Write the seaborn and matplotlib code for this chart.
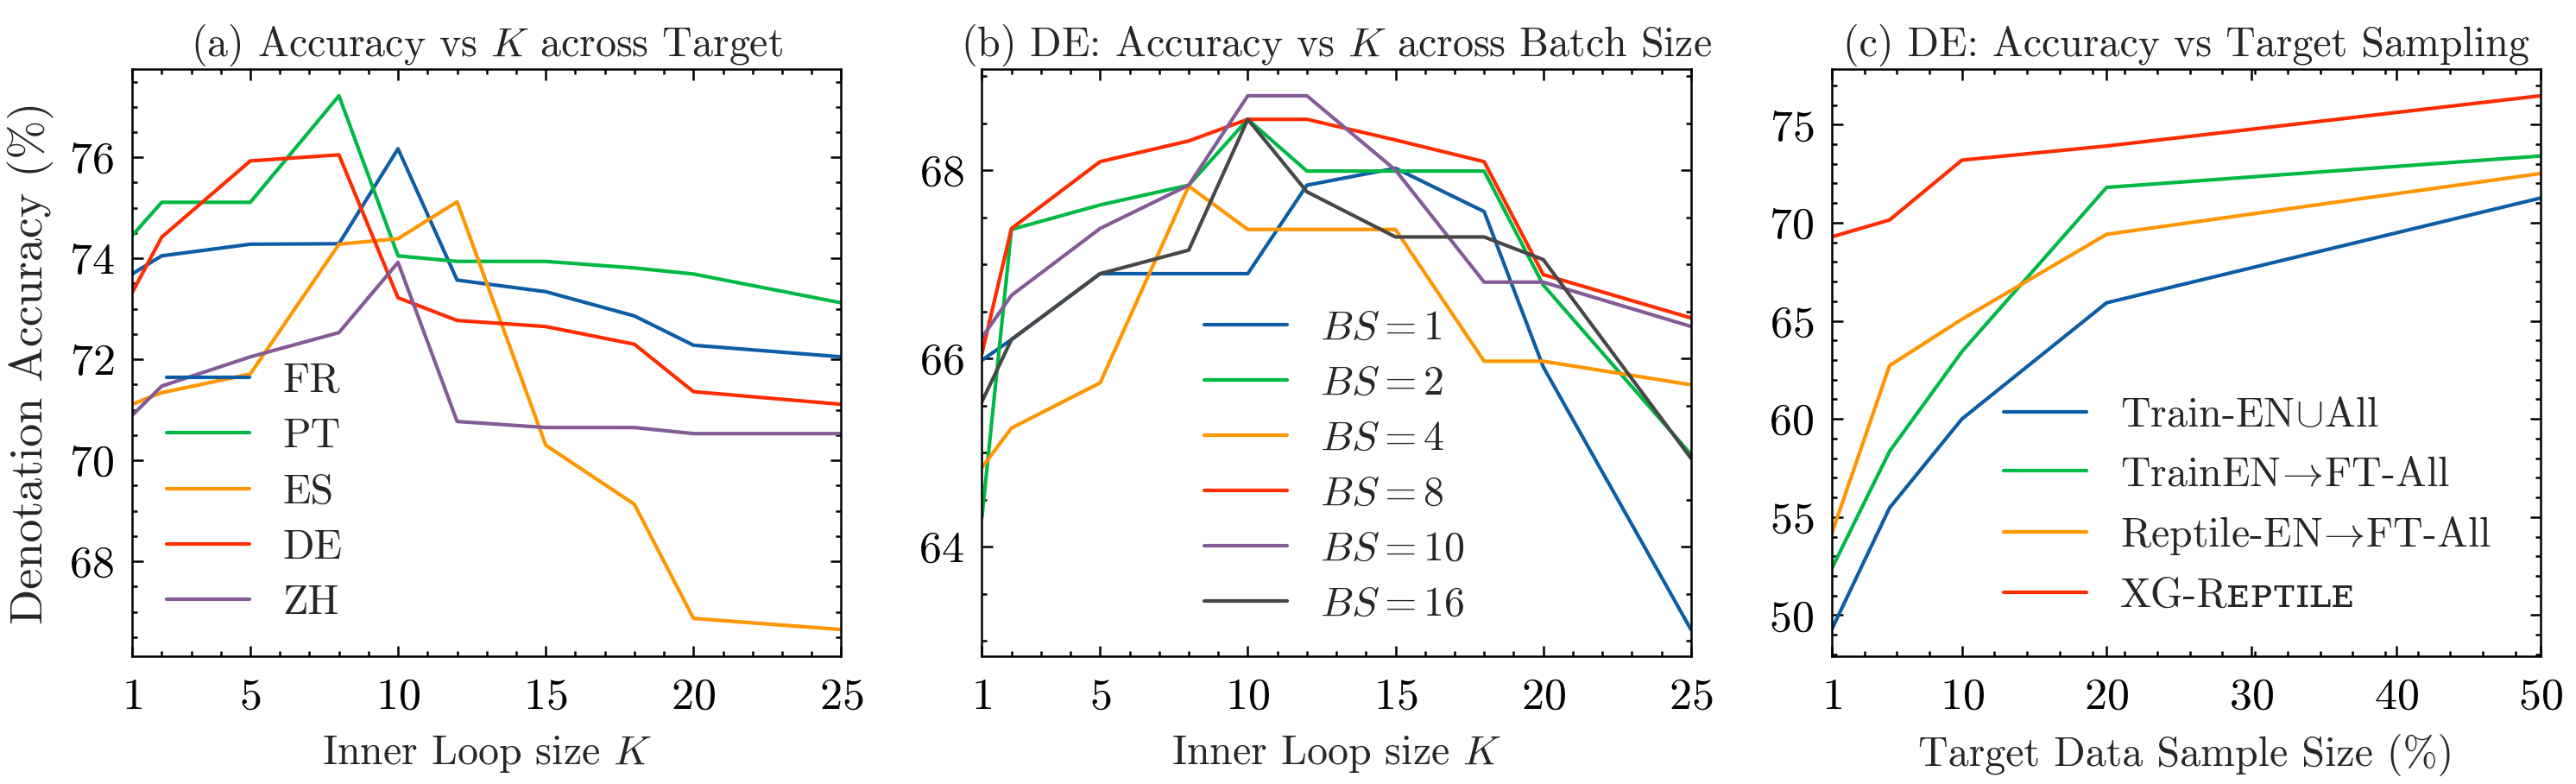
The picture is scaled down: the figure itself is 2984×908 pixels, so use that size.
import numpy as np
import pandas as pd
import matplotlib
matplotlib.use("Agg")
import matplotlib.pyplot as plt
import seaborn as sns
from matplotlib.ticker import FixedLocator, AutoMinorLocator

# ---- data ----
k_vals = [1, 2, 5, 8, 10, 12, 15, 18, 20, 25]

# (a) accuracy vs K per target language
fr = [73.69, 74.05, 74.28, 74.29, 76.17, 73.57, 73.34, 72.86, 72.28, 72.05]
pt = [74.45, 75.11, 75.11, 77.22, 74.05, 73.94, 73.94, 73.81, 73.69, 73.12]
es = [71.11, 71.34, 71.71, 74.28, 74.39, 75.12, 70.30, 69.13, 66.87, 66.65]
de = [73.32, 74.42, 75.93, 76.05, 73.22, 72.77, 72.65, 72.30, 71.36, 71.11]
zh = [70.89, 71.47, 72.05, 72.53, 73.92, 70.77, 70.65, 70.65, 70.53, 70.53]
lang_names = ["FR", "PT", "ES", "DE", "ZH"]

# (b) DE: accuracy vs K per batch size
bs1 = [65.98, 66.20, 66.90, 66.90, 66.90, 67.84, 68.02, 67.56, 65.91, 63.12]
bs2 = [64.31, 67.37, 67.63, 67.84, 68.54, 67.99, 67.99, 67.99, 66.78, 64.98]
bs4 = [64.84, 65.26, 65.74, 67.83, 67.37, 67.37, 67.37, 65.97, 65.97, 65.72]
bs8 = [66.05, 67.38, 68.09, 68.31, 68.54, 68.54, 68.32, 68.09, 66.89, 66.43]
bs10 = [66.22, 66.67, 67.38, 67.84, 68.79, 68.79, 68.00, 66.81, 66.81, 66.34]
bs16 = [65.54, 66.20, 66.90, 67.15, 68.54, 67.77, 67.29, 67.29, 67.05, 64.94]
bs_names = [r"$BS=1$", r"$BS=2$", r"$BS=4$", r"$BS=8$", r"$BS=10$", r"$BS=16$"]

# (c) DE: accuracy vs target sample size
sample_pct = [1, 5, 10, 20, 50]
train_union = [49.27, 55.47, 60.00, 65.92, 71.26]
train_ft = [52.37, 58.35, 63.43, 71.80, 73.40]
reptile_ft = [54.15, 62.72, 65.08, 69.41, 72.51]
xg_reptile = [69.28, 70.14, 73.19, 73.91, 76.47]
method_names = [r"Train-EN$\!\cup\!$All", r"TrainEN$\!\rightarrow\!$FT-All",
                r"Reptile-EN$\!\rightarrow\!$FT-All", "XG-R\u1d07\u1d18\u1d1b\u026a\u029f\u1d07"]

colors = ["#0C5DA5", "#00B945", "#FF9500", "#FF2C00", "#845B97", "#474747"]


def long_df(x, series, names, col):
    rows = []
    for name, ys in zip(names, series):
        for xi, yi in zip(x, ys):
            rows.append({"x": xi, "y": yi, col: name})
    return pd.DataFrame(rows)


df_a = long_df(k_vals, [fr, pt, es, de, zh], lang_names, "lang")
df_b = long_df(k_vals, [bs1, bs2, bs4, bs8, bs10, bs16], bs_names, "bs")
df_c = long_df(sample_pct, [train_union, train_ft, reptile_ft, xg_reptile], method_names, "method")

# ---- style (science-like) ----
sns.set_style("ticks")
plt.rcParams.update({
    "font.family": ["cmr10", "DejaVu Serif"],
    "mathtext.fontset": "cm",
    "axes.formatter.use_mathtext": True,
    "font.size": 11.5,
    "axes.titlesize": 11.5,
    "axes.titlepad": 3.5,
    "axes.labelsize": 11.5,
    "xtick.labelsize": 12.5,
    "ytick.labelsize": 12.5,
    "legend.fontsize": 11.5,
    "axes.linewidth": 0.6,
    "xtick.direction": "in",
    "ytick.direction": "in",
    "xtick.top": True,
    "ytick.right": True,
    "xtick.major.size": 3,
    "ytick.major.size": 3,
    "xtick.minor.size": 1.5,
    "ytick.minor.size": 1.5,
    "xtick.major.width": 0.6,
    "ytick.major.width": 0.6,
    "xtick.minor.width": 0.6,
    "ytick.minor.width": 0.6,
    "xtick.major.pad": 6,
    "ytick.major.pad": 5,
    "xtick.minor.visible": True,
    "ytick.minor.visible": True,
    "lines.linewidth": 1.0,
    "legend.frameon": False,
    "axes.edgecolor": "black",
    "xtick.color": "black",
    "ytick.color": "black",
})

fig, axes = plt.subplots(1, 3, figsize=(2984 / 300, 908 / 300), dpi=300)
fig.subplots_adjust(left=0.0513, right=0.9863, top=0.9119, bottom=0.163, wspace=0.1985)


def place_legend(ax, y_first, y_last, x_start):
    # nudge the legend so its first/last handles sit where they do in the reference
    fs_px = plt.rcParams["legend.fontsize"] * fig.dpi / 72
    ls, bx, by = 0.5, x_start, 0.0
    for _ in range(3):
        leg = ax.legend(loc="lower left", bbox_to_anchor=(bx, by), borderaxespad=0,
                        handlelength=2.0, labelspacing=ls)
        fig.canvas.draw()
        r = fig.canvas.get_renderer()
        hs = leg.legend_handles
        e0 = hs[0].get_window_extent(r)
        e1 = hs[-1].get_window_extent(r)
        c0, c1 = (e0.y0 + e0.y1) / 2, (e1.y0 + e1.y1) / 2
        t0 = ax.transData.transform((1, y_first))[1]
        t1 = ax.transData.transform((1, y_last))[1]
        n = len(hs) - 1
        ls += ((t0 - t1) - (c0 - c1)) / n / fs_px
        abox = ax.get_window_extent(r)
        by += (t1 - c1) / abox.height
        bx += (abox.x0 + x_start * abox.width - e0.x0) / abox.width
    return leg


# (a)
ax = axes[0]
sns.lineplot(data=df_a, x="x", y="y", hue="lang", palette=colors[:5], ax=ax, linewidth=1.0)
ax.set_xlim(1, 25)
ax.xaxis.set_major_locator(FixedLocator([1, 5, 10, 15, 20, 25]))
ax.set_yticks([68, 70, 72, 74, 76])
ax.set_title(r"(a) Accuracy vs $K$ across Target")
ax.set_xlabel(r"Inner Loop size $K$", labelpad=4.5)
ax.set_ylabel(r"Denotation Accuracy (%)", fontsize=13)

# (b)
ax = axes[1]
sns.lineplot(data=df_b, x="x", y="y", hue="bs", palette=colors[:6], ax=ax, linewidth=1.0)
ax.set_xlim(1, 25)
ax.xaxis.set_major_locator(FixedLocator([1, 5, 10, 15, 20, 25]))
ax.set_yticks([64, 66, 68])
ax.set_title(r"(b) DE: Accuracy vs $K$ across Batch Size")
ax.set_xlabel(r"Inner Loop size $K$", labelpad=4.5)
ax.set_ylabel("")

# (c)
ax = axes[2]
sns.lineplot(data=df_c, x="x", y="y", hue="method", palette=colors[:4], ax=ax, linewidth=1.0)
ax.set_xlim(1, 50)
ax.xaxis.set_major_locator(FixedLocator([1, 10, 20, 30, 40, 50]))
ax.set_yticks([50, 55, 60, 65, 70, 75])
ax.set_title("(c) DE: Accuracy vs Target Sampling")
ax.set_xlabel("Target Data Sample Size (%)", labelpad=4.5)
ax.set_ylabel("")

for ax in axes:
    ax.xaxis.set_minor_locator(AutoMinorLocator())
    ax.yaxis.set_minor_locator(AutoMinorLocator())
    ax.tick_params(which="both", direction="in", top=True, right=True)

place_legend(axes[0], 71.64, 67.25, 0.049)
place_legend(axes[1], 66.36, 63.42, 0.314)
place_legend(axes[2], 60.35, 51.15, 0.243)

fig.savefig("out.png", dpi=300)
